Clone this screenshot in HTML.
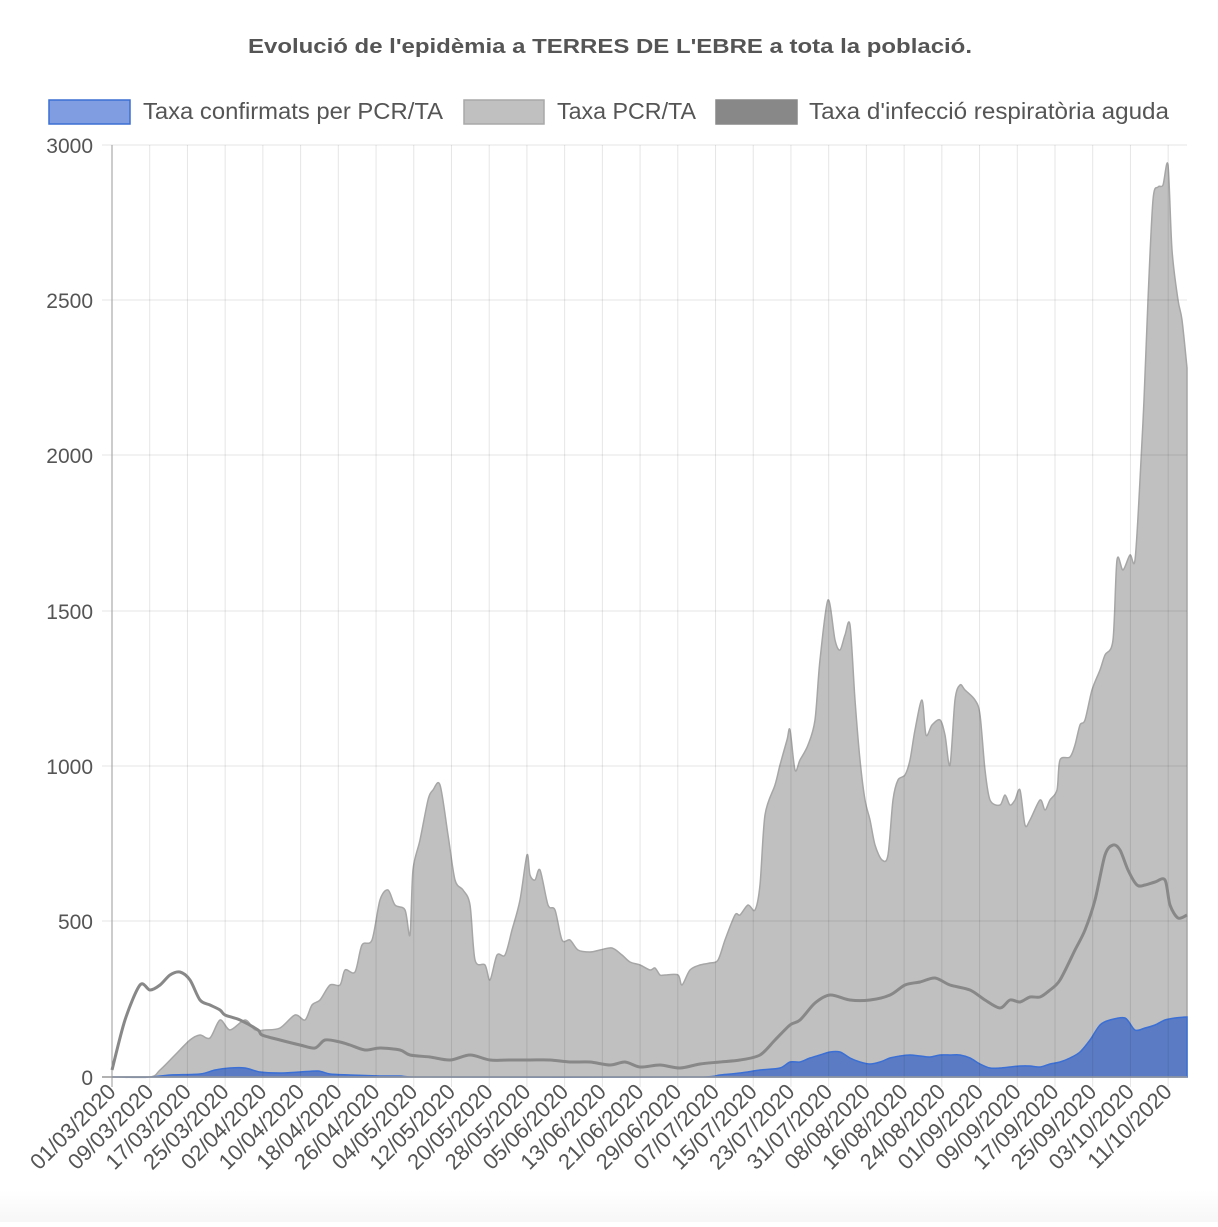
<!DOCTYPE html>
<html><head><meta charset="utf-8"><style>
body{margin:0;background:#fff;width:1218px;height:1222px;overflow:hidden;font-family:"Liberation Sans",Arial,sans-serif;}
</style></head><body>
<svg width="1218" height="1222" xmlns="http://www.w3.org/2000/svg" font-family="Liberation Sans, Arial, sans-serif">
<defs><linearGradient id="bg" x1="0" y1="0" x2="0" y2="1"><stop offset="0" stop-color="#fff"/><stop offset="1" stop-color="#f7f7f7"/></linearGradient></defs>
<rect x="0" y="1190" width="1218" height="32" fill="url(#bg)"/>
<text x="248" y="53" font-size="20" font-weight="bold" fill="#555" textLength="724" lengthAdjust="spacingAndGlyphs">Evolució de l'epidèmia a TERRES DE L'EBRE a tota la població.</text>
<rect x="49" y="100" width="81" height="24" fill="#7f9de0" stroke="#3b6fd4" stroke-width="1.5"/>
<text x="143" y="119" font-size="23" fill="#555" textLength="300" lengthAdjust="spacingAndGlyphs">Taxa confirmats per PCR/TA</text>
<rect x="464" y="100" width="80" height="24" fill="#c0c0c0" stroke="#a8a8a8" stroke-width="1.5"/>
<text x="557" y="119" font-size="23" fill="#555" textLength="139" lengthAdjust="spacingAndGlyphs">Taxa PCR/TA</text>
<rect x="716" y="100" width="81" height="24" fill="#888" stroke="#888" stroke-width="1.5"/>
<text x="809" y="119" font-size="23" fill="#555" textLength="360" lengthAdjust="spacingAndGlyphs">Taxa d'infecció respiratòria aguda</text>
<g font-size="21" fill="#555" text-anchor="end">
<text x="93" y="153">3000</text><text x="93" y="308">2500</text><text x="93" y="463">2000</text><text x="93" y="619">1500</text><text x="93" y="774">1000</text><text x="93" y="929">500</text><text x="93" y="1085">0</text>
</g>
<path id="gfill" fill="#c0c0c0" stroke="#a6a6a6" stroke-width="1.5"/>
<path id="bfill" fill="#5b7cc4" stroke="#3b6fd4" stroke-width="1.5"/>
<g stroke="rgba(0,0,0,0.1)" stroke-width="1">
<line x1="112" y1="145" x2="1187" y2="145"/><line x1="112" y1="300" x2="1187" y2="300"/><line x1="112" y1="455" x2="1187" y2="455"/><line x1="112" y1="611" x2="1187" y2="611"/><line x1="112" y1="766" x2="1187" y2="766"/><line x1="112" y1="921" x2="1187" y2="921"/>
<line x1="102" y1="145" x2="112" y2="145"/><line x1="102" y1="300" x2="112" y2="300"/><line x1="102" y1="455" x2="112" y2="455"/><line x1="102" y1="611" x2="112" y2="611"/><line x1="102" y1="766" x2="112" y2="766"/><line x1="102" y1="921" x2="112" y2="921"/>
</g>
<g id="vg" stroke="rgba(0,0,0,0.1)" stroke-width="1"></g>
<line x1="112" y1="145" x2="112" y2="1087" stroke="#999" stroke-width="1"/>
<line x1="102" y1="1077" x2="1187" y2="1077" stroke="#999" stroke-width="1.5"/>
<path id="dline" fill="none" stroke="#888" stroke-width="3" stroke-linejoin="round"/>
<g id="xl" font-size="22" fill="#555" text-anchor="end"></g>
</svg>
<script>
function P(s){var a=s.trim().split(/\s+/).map(Number),r=[];for(var i=0;i<a.length;i+=2)r.push([a[i],a[i+1]]);return r;}
function smooth(p){var d="M"+p[0][0]+" "+p[0][1];var t=0.3;for(var i=0;i<p.length-1;i++){var p0=p[i-1]||p[i],p1=p[i],p2=p[i+1],p3=p[i+2]||p2;
var c1x=p1[0]+(p2[0]-p0[0])*t/2*1,c1y=p1[1]+(p2[1]-p0[1])*t/2;var c2x=p2[0]-(p3[0]-p1[0])*t/2,c2y=p2[1]-(p3[1]-p1[1])*t/2;
c1x=Math.min(Math.max(c1x,p1[0]),p2[0]);c2x=Math.min(Math.max(c2x,p1[0]),p2[0]);
d+=" C"+c1x.toFixed(1)+" "+c1y.toFixed(1)+" "+c2x.toFixed(1)+" "+c2y.toFixed(1)+" "+p2[0]+" "+p2[1];}return d;}
var g=P("112 1077 150 1077 160 1070 175 1055 190 1040 200 1035 210 1038 220 1020 230 1030 245 1020 255 1030 265 1030 280 1028 295 1015 305 1020 312 1005 320 1000 330 985 340 985 345 970 355 972 362 945 372 940 380 900 388 890 395 905 405 910 410 935 413 870 420 840 428 800 433 790 440 785 448 835 455 880 463 890 470 905 475 960 485 965 490 980 497 955 505 955 512 930 520 900 527 855 530 875 535 880 540 870 548 905 555 910 562 940 570 940 578 950 590 952 600 950 612 948 622 955 630 962 640 965 650 970 655 968 660 975 665 975 678 975 682 985 690 970 700 965 710 963 718 960 725 940 735 915 740 915 748 905 755 910 760 885 765 815 775 785 780 765 787 740 790 730 795 770 800 760 808 745 815 720 820 660 828 600 835 640 840 650 845 635 850 625 855 700 860 760 865 800 870 820 875 845 882 860 888 855 893 800 898 780 905 775 910 760 915 730 922 700 926 735 932 725 940 720 945 735 950 765 955 700 960 685 965 690 975 700 980 715 985 770 990 800 1000 805 1005 795 1010 805 1015 800 1020 790 1025 825 1030 820 1040 800 1045 810 1050 800 1057 790 1060 760 1070 757 1075 745 1080 725 1085 720 1092 690 1100 670 1105 655 1113 640 1117 560 1123 570 1130 555 1135 560 1140 480 1144 400 1148 300 1153 200 1158 187 1163 185 1168 165 1172 250 1178 300 1182 320 1187 368");
var b=P("112 1077 150 1077 170 1075 200 1074 215 1070 230 1068 245 1068 260 1072 280 1073 300 1072 318 1071 330 1074 350 1075 380 1076 400 1076 420 1077 700 1077 720 1075 740 1073 760 1070 780 1068 790 1062 800 1062 810 1058 820 1055 830 1052 840 1052 850 1058 860 1062 870 1064 880 1062 890 1058 900 1056 910 1055 920 1056 930 1057 940 1055 950 1055 960 1055 970 1058 980 1064 990 1068 1000 1068 1010 1067 1020 1066 1030 1066 1040 1067 1050 1064 1060 1062 1070 1058 1080 1052 1090 1040 1100 1025 1110 1020 1125 1018 1135 1030 1145 1028 1155 1025 1165 1020 1175 1018 1187 1017");
var dl=P("112 1070 125 1020 140 985 150 990 160 985 170 975 180 972 190 980 200 1000 210 1005 220 1010 225 1015 240 1020 258 1030 262 1035 280 1040 300 1045 315 1048 325 1040 340 1042 350 1045 365 1050 380 1048 400 1050 410 1055 430 1057 450 1060 470 1055 490 1060 510 1060 530 1060 550 1060 570 1062 590 1062 610 1065 625 1062 640 1067 660 1065 680 1068 700 1064 720 1062 740 1060 760 1055 775 1040 790 1025 800 1020 815 1003 830 995 850 1000 870 1000 890 995 905 985 920 982 935 978 950 985 970 990 985 1000 1000 1008 1010 1000 1020 1002 1030 997 1040 997 1050 990 1060 980 1075 950 1085 930 1095 900 1105 855 1113 845 1120 850 1128 870 1137 885 1145 885 1155 882 1165 880 1170 905 1178 918 1187 915");
document.getElementById("gfill").setAttribute("d",smooth(g)+" L1187 1077 L112 1077 Z");
document.getElementById("bfill").setAttribute("d",smooth(b)+" L1187 1077 L112 1077 Z");
document.getElementById("dline").setAttribute("d",smooth(dl));
var labels=["01/03/2020","09/03/2020","17/03/2020","25/03/2020","02/04/2020","10/04/2020","18/04/2020","26/04/2020","04/05/2020","12/05/2020","20/05/2020","28/05/2020","05/06/2020","13/06/2020","21/06/2020","29/06/2020","07/07/2020","15/07/2020","23/07/2020","31/07/2020","08/08/2020","16/08/2020","24/08/2020","01/09/2020","09/09/2020","17/09/2020","25/09/2020","03/10/2020","11/10/2020"];
var ns="http://www.w3.org/2000/svg",vg=document.getElementById("vg"),xl=document.getElementById("xl");
for(var i=0;i<labels.length;i++){var x=112+i*37.72;
if(i>0){var l=document.createElementNS(ns,"line");l.setAttribute("x1",x);l.setAttribute("x2",x);l.setAttribute("y1",145);l.setAttribute("y2",1087);vg.appendChild(l);}
var t=document.createElementNS(ns,"text");t.setAttribute("transform","translate("+(x+5)+",1093) rotate(-45)");t.textContent=labels[i];xl.appendChild(t);}
</script>
</body></html>
